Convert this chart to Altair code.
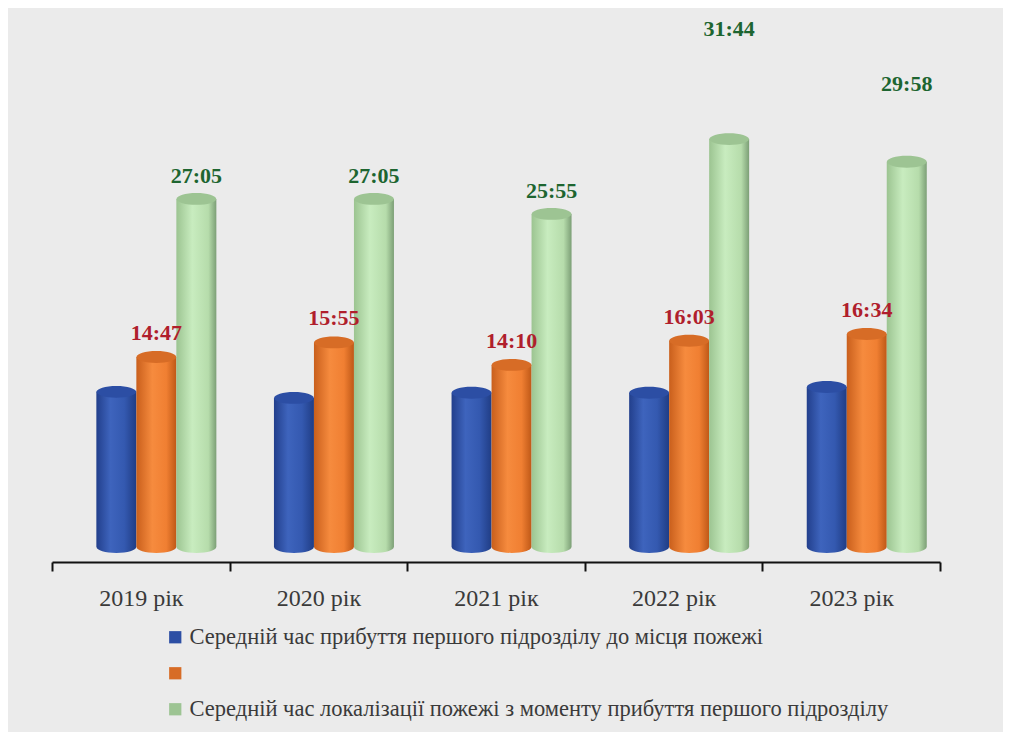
import altair as alt
import pandas as pd

years = ["2019 рік", "2020 рік", "2021 рік", "2022 рік", "2023 рік"]
series_keys = ["s1", "s2", "s3"]
series_names = {
    "s1": "Середній час прибуття першого підрозділу до місця пожежі",
    "s2": "",
    "s3": "Середній час локалізації пожежі з моменту прибуття першого підрозділу",
}
# blue series has no printed labels: values (minutes)
arrival_minutes = [12.07, 11.60, 12.00, 12.00, 12.45]
orange_labels = ["14:47", "15:55", "14:10", "16:03", "16:34"]
green_labels = ["27:05", "27:05", "25:55", "31:44", "29:58"]


def to_min(s):
    m, sec = s.split(":")
    return int(m) + int(sec) / 60.0


rows = []
for i, y in enumerate(years):
    rows.append({"year": y, "key": "s1", "value": arrival_minutes[i], "label": ""})
    rows.append({"year": y, "key": "s2", "value": to_min(orange_labels[i]), "label": orange_labels[i]})
    rows.append({"year": y, "key": "s3", "value": to_min(green_labels[i]), "label": green_labels[i]})
df = pd.DataFrame(rows)

FONT = "'Liberation Serif', 'Times New Roman', serif"

grad = {
    "s1": [("#223f8c", 0), ("#3e64bd", 0.35), ("#3459b0", 0.7), ("#203d85", 1)],
    "s2": [("#c95f1c", 0), ("#f68b3e", 0.4), ("#f07f32", 0.75), ("#bf5817", 1)],
    "s3": [("#9cc491", 0), ("#c8ecbf", 0.4), ("#b6dcab", 0.8), ("#7c9f76", 1)],
}
top_colors = {"s1": "#2c4ea4", "s2": "#d76c26", "s3": "#9dc493"}

x_enc = alt.X("year:N", sort=years, scale=alt.Scale(paddingInner=0, paddingOuter=0),
              axis=alt.Axis(title=None, labelAngle=0, tickBand="extent", domainColor="#111111",
                            domainWidth=2, tickColor="#111111", tickWidth=2, tickSize=9,
                            labelFont=FONT, labelFontSize=24, labelColor="#3a3a3a",
                            labelPadding=15, offset=15, grid=False))
xo_enc = alt.XOffset("key:N", sort=series_keys,
                     scale=alt.Scale(domain=series_keys, paddingInner=0, paddingOuter=0.72, align=0.77))
y_scale = alt.Scale(domain=[0, 41], nice=False)
y_enc = alt.Y("value:Q", scale=y_scale, axis=None)

base = alt.Chart(df)


def gradient(key):
    return alt.Gradient(gradient="linear", x1=0, x2=1, y1=0, y2=0,
                        stops=[alt.GradientStop(color=c, offset=o) for c, o in grad[key]])


layers = []
for k in series_keys:
    layers.append(base.transform_filter(f"datum.key == '{k}'").mark_bar(color=gradient(k)).encode(
        x=x_enc, xOffset=xo_enc, y=y_enc))

for k in series_keys:
    layers.append(base.transform_filter(f"datum.key == '{k}'").mark_point(
        shape="M-1,0A1,0.3 0 0,0 1,0Z", size=1580, filled=True, opacity=1,
        color=gradient(k), strokeWidth=0).encode(
        x=x_enc, xOffset=xo_enc, y=alt.Y(datum=0, scale=y_scale, axis=None)))

legend_expr = ("datum.label == 's1' ? '" + series_names["s1"] + "' : datum.label == 's3' ? '"
               + series_names["s3"] + "' : ''")
top = base.mark_point(shape="M-1,0A1,0.3 0 1,1 1,0A1,0.3 0 1,1 -1,0Z", size=1580,
                      filled=True, opacity=1, strokeWidth=0).encode(
    x=x_enc, xOffset=xo_enc, y=y_enc,
    color=alt.Color("key:N", sort=series_keys,
                    scale=alt.Scale(domain=series_keys, range=[top_colors[k] for k in series_keys]),
                    legend=alt.Legend(title=None, orient="none", legendX=112, legendY=606,
                                      direction="vertical", symbolType="square", symbolSize=150,
                                      symbolStrokeWidth=0, labelExpr=legend_expr,
                                      labelFont=FONT, labelFontSize=22.5,
                                      labelColor="#3a3a3a", rowPadding=13, labelLimit=900,
                                      labelOffset=3, symbolOffset=0)))
layers.append(top)

txt_common = dict(font=FONT, fontSize=22, fontWeight="bold", baseline="middle", align="center")
layers.append(base.transform_filter("datum.key == 's2'").mark_text(color="#b01e2c", dy=-24, **txt_common).encode(
    x=x_enc, xOffset=xo_enc, y=y_enc, text="label:N"))
layers.append(base.transform_filter(
    "datum.key == 's3' && datum.year != '2022 рік' && datum.year != '2023 рік'").mark_text(
    color="#1d6530", dy=-23, **txt_common).encode(x=x_enc, xOffset=xo_enc, y=y_enc, text="label:N"))
layers.append(base.transform_filter("datum.key == 's3' && datum.year == '2022 рік'").mark_text(
    color="#1d6530", dy=-110, **txt_common).encode(x=x_enc, xOffset=xo_enc, y=y_enc, text="label:N"))
layers.append(base.transform_filter("datum.key == 's3' && datum.year == '2023 рік'").mark_text(
    color="#1d6530", dy=-78, **txt_common).encode(x=x_enc, xOffset=xo_enc, y=y_enc, text="label:N"))

chart = alt.layer(*layers).properties(
    width=888, height=527,
    autosize=alt.AutoSizeParams(type="none"),
    padding={"left": 44, "top": 12, "right": 63, "bottom": 185},
    background="#ebebeb",
).configure_view(stroke=None)

chart.save("out.html", embed_options={"renderer": "svg", "actions": False})
